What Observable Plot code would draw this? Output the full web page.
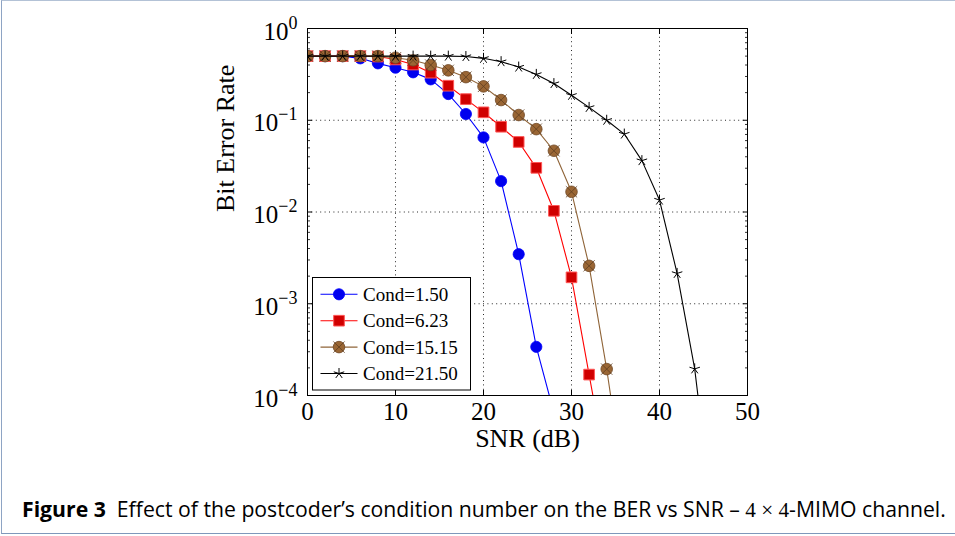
<!DOCTYPE html>
<html><head><meta charset="utf-8">
<script src="https://cdn.jsdelivr.net/npm/d3@7"></script>
<script src="https://cdn.jsdelivr.net/npm/@observablehq/plot@0.6"></script>
<style>
html,body{margin:0;padding:0;background:#fff;width:955px;height:536px;overflow:hidden;}
#frame{position:absolute;left:1px;top:0;width:990px;height:532px;border-left:1.5px solid #8ea4c4;border-top:1px solid #b3c2d6;border-bottom:1.5px solid #7f98bb;}
#chart{position:absolute;left:0;top:0;}
#caption{position:absolute;left:22px;top:496px;font-family:'Open Sans',sans-serif;font-size:18px;white-space:nowrap;color:#000;}
#caption .m{font-family:'Liberation Serif',serif;}
</style></head><body>
<div id="frame"></div>
<div id="chart"></div>
<div id="caption"><b>Figure 3</b>&nbsp; Effect of the postcoder’s condition number on the BER vs SNR – <span class="m">4 × 4</span>-MIMO channel.</div>
<script>
// ---- data ----
const snrStep = 2; // dB between simulated points, starting at 0 dB
const seriesNames = ["Cond=1.50", "Cond=6.23", "Cond=15.15", "Cond=21.50"];
const berCond150  = [0.5, 0.5, 0.5, 0.473, 0.417, 0.374, 0.333, 0.279, 0.193, 0.117, 0.065, 0.0217, 0.00347, 3.39e-4, 6.5e-5];
const berCond623  = [0.5, 0.5, 0.5, 0.5, 0.495, 0.46, 0.405, 0.33, 0.238, 0.17, 0.122, 0.085, 0.058, 0.0303, 0.0103, 0.00194, 1.69e-4, 1.5e-5];
const berCond1515 = [0.5, 0.5, 0.5, 0.5, 0.5, 0.48, 0.45, 0.40, 0.35, 0.295, 0.234, 0.166, 0.114, 0.080, 0.0465, 0.0166, 0.00259, 1.94e-4, 1e-5];
const berCond2150 = [0.5, 0.5, 0.5, 0.5, 0.5, 0.5, 0.5, 0.5, 0.5, 0.495, 0.473, 0.435, 0.38, 0.316, 0.251, 0.187, 0.138, 0.1, 0.0707, 0.0363, 0.0135, 0.00214, 1.95e-4, 5e-6];
const xTicks = [0, 10, 20, 30, 40, 50];
const xGrid = [10, 20, 30, 40];
const yTicks = [1e-4, 1e-3, 1e-2, 1e-1, 1];
const yTickLabels = ["10^−4", "10^−3", "10^−2", "10^−1", "10^0"];
const yGrid = [1e-3, 1e-2, 1e-1];
const yMinorMantissas = [2, 3, 4, 5, 6, 7, 8, 9];
const yMinorDecades = [1e-4, 1e-3, 1e-2, 1e-1];
const xLabel = "SNR (dB)";
const yLabel = "Bit Error Rate";

// ---- build table ----
const berSeries = [berCond150, berCond623, berCond1515, berCond2150];
const rows = berSeries.flatMap((vals, s) => vals.map((ber, i) => ({snr: i * snrStep, ber, series: seriesNames[s]})));
const yMinor = yMinorDecades.flatMap(d => yMinorMantissas.map(m => m * d));
const bySeries = name => rows.filter(r => r.series === name);

// 5-armed asterisk (pgfplots "star")
const star5 = {draw(ctx, size) {
  const r = Math.sqrt(size / Math.PI);
  for (let k = 0; k < 5; k++) {
    const a = -Math.PI / 2 + k * 2 * Math.PI / 5;
    ctx.moveTo(0, 0); ctx.lineTo(r * Math.cos(a), r * Math.sin(a));
  }
}};

const styles = [
  {line: "#0000ff", marks: [{symbol: "circle", r: 5.6, fill: "#0000ee", stroke: "#0000ff", strokeWidth: 0.8}]},
  {line: "#ff0000", marks: [{symbol: "square", r: 6.0, fill: "#d00000", stroke: "#ff5555", strokeWidth: 1}]},
  {line: "#8f6438", marks: [{symbol: "circle", r: 5.8, fill: "#9a6634", stroke: "#6e4826", strokeWidth: 0.8},
                            {symbol: "times", r: 5.2, fill: "none", stroke: "#5e3d1f", strokeWidth: 0.8}]},
  {line: "#000000", marks: [{symbol: star5, r: 5.5, fill: "none", stroke: "#000", strokeWidth: 1}]}
];

const seriesMarks = seriesNames.flatMap((name, i) => {
  const st = styles[i];
  return [
    Plot.line(bySeries(name), {x: "snr", y: "ber", stroke: st.line, strokeWidth: 1.1, clip: true}),
    ...st.marks.map(m => Plot.dot(bySeries(name), {x: "snr", y: "ber", clip: true, ...m}))
  ];
});

const plot = Plot.plot({
  width: 955, height: 470,
  marginLeft: 307, marginRight: 208, marginTop: 28, marginBottom: 75,
  style: {fontFamily: "'Liberation Serif', serif", fontSize: "25px", color: "#000", background: "transparent"},
  x: {domain: [0, 50]},
  y: {type: "log", domain: [1e-4, 1]},
  marks: [
    Plot.gridX(xGrid, {stroke: "#111", strokeOpacity: 0.9, strokeDasharray: "1,3.4", strokeWidth: 1}),
    Plot.gridY(yGrid, {stroke: "#111", strokeOpacity: 0.9, strokeDasharray: "1,3.4", strokeWidth: 1}),
    ...seriesMarks,
    Plot.frame({stroke: "#000", strokeWidth: 1}),
    Plot.axisX({ticks: xTicks, tickSize: -5, anchor: "bottom", tickFormat: () => "", label: null}),
    Plot.axisX({ticks: xTicks, tickSize: -5, anchor: "top", tickFormat: () => "", label: null}),
    Plot.axisY({ticks: yTicks, tickSize: -5, anchor: "left", tickFormat: () => "", label: null}),
    Plot.axisY({ticks: yTicks, tickSize: -5, anchor: "right", tickFormat: () => "", label: null}),
    Plot.axisY({ticks: yMinor, tickSize: -3, anchor: "left", tickFormat: () => "", label: null, strokeOpacity: 0.8}),
    Plot.axisY({ticks: yMinor, tickSize: -3, anchor: "right", tickFormat: () => "", label: null, strokeOpacity: 0.8}),
    Plot.axisX({ticks: xTicks, tickSize: 0, tickPadding: 7, anchor: "bottom", label: null, fontSize: 25}),
    Plot.axisY({ticks: yTicks, tickSize: 0, tickPadding: 10, anchor: "left", label: null, dy: 3, fontSize: 25,
                tickFormat: d => yTickLabels[yTicks.indexOf(d)]}),
    Plot.text([xLabel], {frameAnchor: "bottom", dy: 51, fontSize: 26}),
    Plot.text([yLabel], {frameAnchor: "left", dx: -82, rotate: -90, fontSize: 26})
  ]
});
document.getElementById("chart").appendChild(plot);

// superscript exponents on y tick labels
d3.select(plot).selectAll('g[aria-label="y-axis tick label"] text').each(function() {
  const t = d3.select(this);
  const s = t.text();
  const [base, exp] = s.split("^");
  t.text("");
  t.append("tspan").text(base);
  t.append("tspan").attr("dy", -11).attr("font-size", 18).text(exp);
});

// legend (inside plot area, lower left)
const svg = d3.select(plot);
const lg = svg.append("g").attr("font-family", "'Liberation Serif', serif").attr("font-size", 19)
  .attr("text-anchor", "start");
lg.append("rect").attr("x", 312.5).attr("y", 277.5).attr("width", 158).attr("height", 112.5)
  .attr("fill", "white").attr("stroke", "black").attr("stroke-width", 1);
seriesNames.forEach((name, i) => {
  const yy = 294.3 + i * 26.4;
  const st = styles[i];
  lg.append("line").attr("x1", 320.5).attr("x2", 357.5).attr("y1", yy).attr("y2", yy)
    .attr("stroke", st.line).attr("stroke-width", 1.1);
  st.marks.forEach(m => {
    const type = m.symbol === "circle" ? d3.symbolCircle : m.symbol === "square" ? d3.symbolSquare
               : m.symbol === "times" ? d3.symbolTimes : m.symbol;
    lg.append("path").attr("transform", `translate(339,${yy})`)
      .attr("d", d3.symbol(type, Math.PI * m.r * m.r)())
      .attr("fill", m.fill).attr("stroke", m.stroke).attr("stroke-width", m.strokeWidth);
  });
  lg.append("text").attr("x", 363).attr("y", yy + 6.5).attr("text-anchor", "start").text(name);
});

// fit caption to the reference's line length
const cap = document.getElementById("caption");
const targetW = 924;
const w0 = cap.getBoundingClientRect().width;
cap.style.fontSize = (18 * targetW / w0).toFixed(2) + "px";
cap.style.top = (508 - cap.getBoundingClientRect().height / 2) + "px";
</script>
</body></html>
